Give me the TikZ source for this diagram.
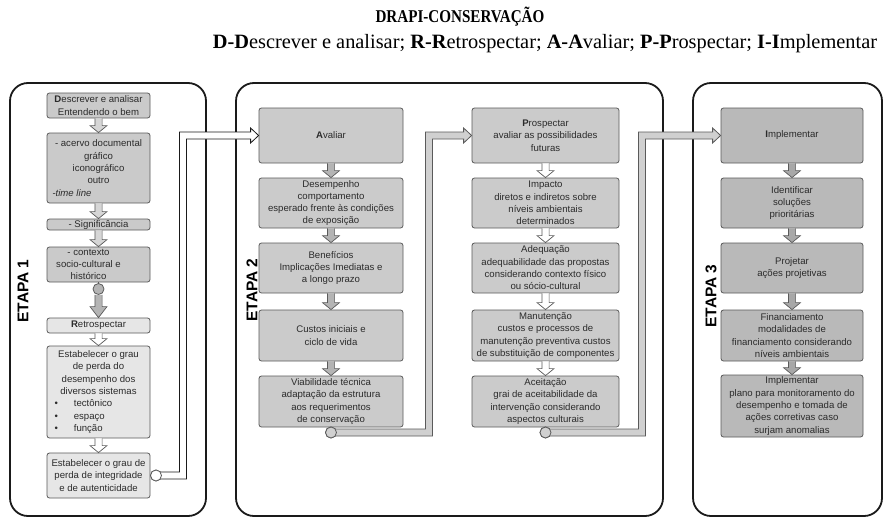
\documentclass[tikz,border=0pt]{standalone}
\usepackage{fontspec}
\setmainfont{Liberation Serif}
\setsansfont{Liberation Sans}
\usetikzlibrary{calc}

\definecolor{panelline}{HTML}{1A1A1A}
\definecolor{boxline}{HTML}{5A5A5A}
\definecolor{txt}{HTML}{2B2B2B}
\definecolor{fillD}{HTML}{CACACA}
\definecolor{fillR}{HTML}{E6E6E6}
\definecolor{fillA}{HTML}{CBCBCB}
\definecolor{fillP}{HTML}{CBCBCB}
\definecolor{fillI}{HTML}{B9B9B9}
\definecolor{arrD}{HTML}{D6D6D6}
\definecolor{arrA}{HTML}{B4B4B4}
\definecolor{arrI}{HTML}{A8A8A8}
\definecolor{pipeG}{HTML}{D0D0D0}

% hollow block arrow pointing down, from the bottom of one node to the top of the next
\newcommand\blockdown[4][7pt]{%
  \path[fill=#4] let \p1=(#2.south), \p2=(#3.north) in
    (\x1-3.6pt,\y1) -- (\x1-3.6pt,\y2+#1) -- (\x1-8.5pt,\y2+#1) -- (\x1,\y2)
    -- (\x1+8.5pt,\y2+#1) -- (\x1+3.6pt,\y2+#1) -- (\x1+3.6pt,\y1) -- cycle;
  \draw[draw=boxline, line width=0.7pt, line join=miter] let \p1=(#2.south), \p2=(#3.north) in
    (\x1-3.6pt,\y1) -- (\x1-3.6pt,\y2+#1) -- (\x1-8.5pt,\y2+#1) -- (\x1,\y2)
    -- (\x1+8.5pt,\y2+#1) -- (\x1+3.6pt,\y2+#1) -- (\x1+3.6pt,\y1);}

% wide pipe: right from a knob, up a riser at x = #3, right into the west side of a box
\newcommand\pipe[5]{%
  \path[draw=#5, line width=0.8pt, fill=#4, line join=miter]
    let \p1=(#1.center), \p2=(#2.west) in
    (\x1,\y1+3.5pt) -- (#3-3.5pt,\y1+3.5pt) -- (#3-3.5pt,\y2+3.5pt)
    -- (\x2-8pt,\y2+3.5pt) -- (\x2-8pt,\y2+7.5pt) -- (\x2,\y2)
    -- (\x2-8pt,\y2-7.5pt) -- (\x2-8pt,\y2-3.5pt) -- (#3+3.5pt,\y2-3.5pt)
    -- (#3+3.5pt,\y1-3.5pt) -- (\x1,\y1-3.5pt) -- cycle;}

% bulleted line inside the narrow boxes
\newcommand\bulletline[1]{\makebox[92pt][l]{\hspace*{2pt}\textbullet\hspace{16pt}#1}}
% a centred line set a little left of the box centre
\newcommand\leftish[1]{\makebox[100pt]{#1\hspace{20pt}}}

\tikzset{
  panel/.style={draw=panelline, line width=1.8pt, rounded corners=18pt},
  box/.style={draw=boxline, line width=0.8pt, rounded corners=2.5pt,
    inner xsep=0pt, inner ysep=1pt, align=center, text=txt,
    font=\sffamily\fontsize{9.6}{12.3}\selectfont},
  stagelabel/.style={rotate=90, text=black,
    font=\sffamily\bfseries\fontsize{15.5}{15.5}\selectfont},
  knob/.style={circle, draw=boxline, line width=0.8pt, fill=#1,
    minimum size=11pt, inner sep=0pt},
  colD/.style={box, fill=fillD, minimum width=103pt},
  colR/.style={box, fill=fillR, minimum width=103pt},
  colA/.style={box, fill=fillA, minimum width=144pt},
  colP/.style={box, fill=fillP, minimum width=147pt},
  colI/.style={box, fill=fillI, minimum width=142pt},
}

\begin{document}
\begin{tikzpicture}[x=1pt, y=-1pt]
\useasboundingbox[fill=white] (0,0) rectangle (885,519);

% headings
\node (title) at (460,17)
  {\scalebox{0.84}[1]{\fontsize{18}{18}\selectfont\bfseries DRAPI-CONSERVAÇÃO}};
\node (subtitle) at (545,44)
  {\resizebox{664pt}{!}{\textbf{D-D}escrever e analisar; \textbf{R-R}etrospectar;
   \textbf{A-A}valiar; \textbf{P-P}rospectar; \textbf{I-I}mplementar}};

% the three stage panels
\draw[panel] (10,83) rectangle (206,516);
\draw[panel] (236,83) rectangle (663,516);
\draw[panel] (693,83) rectangle (882,516);

\node[stagelabel] (e1) at (23,291) {ETAPA 1};
\node[stagelabel] (e2) at (252,290) {ETAPA 2};
\node[stagelabel] (e3) at (711,296) {ETAPA 3};

% stage 1: describe and look back
\node[colD, minimum height=25pt] (d1) at (98.5,105.5)
  {\textbf{D}escrever e analisar\\Entendendo o bem};
\node[colD, minimum height=70pt] (d2) at (98.5,168)
  {- acervo documental\\gráfico\\iconográfico\\outro\\\makebox[92pt][l]{-\textit{time line}}};
\node[colD, minimum height=11pt, inner ysep=0pt] (d3) at (98.5,224.5) {- Significância};
\node[colD, minimum height=35pt] (d4) at (98.5,264.5)
  {\leftish{- contexto}\\\leftish{socio-cultural e}\\\leftish{histórico}};
\node[knob=arrA] (k1) at (98.5,289) {};
\node[colR, minimum height=15pt, inner ysep=0pt] (r1) at (98.5,325.5) {\textbf{R}etrospectar};
\node[colR, minimum height=92pt] (r2) at (98.5,392)
  {Estabelecer o grau\\de perda do\\desempenho dos\\diversos sistemas\\
   \bulletline{tectônico}\\\bulletline{espaço}\\\bulletline{função}};
\node[colR, minimum height=45pt] (r3) at (98.5,475.5)
  {Estabelecer o grau de\\perda de integridade\\e de autenticidade};
\node[knob=white] (k3) at (156,475.5) {};

\blockdown{d1}{d2}{arrD}
\blockdown{d2}{d3}{arrD}
\blockdown{d3}{d4}{arrD}
\draw[boxline, line width=0.8pt] (d4.south) -- (k1.north);
\blockdown[11pt]{k1}{r1}{arrA}
\blockdown{r1}{r2}{white}
\blockdown{r2}{r3}{white}

% stage 2: evaluate
\node[colA, minimum height=55pt] (a1) at (331,135.5) {\textbf{A}valiar};
\node[colA, minimum height=50pt] (a2) at (331,203)
  {Desempenho\\comportamento\\esperado frente às condições\\de exposição};
\node[colA, minimum height=50pt] (a3) at (331,268)
  {Benefícios\\Implicações Imediatas e\\a longo prazo};
\node[colA, minimum height=51pt] (a4) at (331,335.5)
  {Custos iniciais e\\ciclo de vida};
\node[colA, minimum height=51pt] (a5) at (331,401.5)
  {Viabilidade técnica\\adaptação da estrutura\\aos requerimentos\\de conservação};
\node[knob=pipeG] (k4) at (331,432.5) {};

\blockdown{a1}{a2}{arrA}
\blockdown{a2}{a3}{arrA}
\blockdown{a3}{a4}{arrA}
\blockdown{a4}{a5}{arrA}

% stage 2: look ahead
\node[colP, minimum height=55pt] (p1) at (545.5,135.5)
  {\textbf{P}rospectar\\avaliar as possibilidades\\futuras};
\node[colP, minimum height=50pt] (p2) at (545.5,203)
  {Impacto\\diretos e indiretos sobre\\níveis ambientais\\determinados};
\node[colP, minimum height=50pt] (p3) at (545.5,268)
  {Adequação\\adequabilidade das propostas\\considerando contexto físico\\ou sócio-cultural};
\node[colP, minimum height=51pt] (p4) at (545.5,335.5)
  {Manutenção\\custos e processos de\\manutenção preventiva custos\\de substituição de componentes};
\node[colP, minimum height=51pt] (p5) at (545.5,401.5)
  {Aceitação\\grai de aceitabilidade da\\intervenção considerando\\aspectos culturais};
\node[knob=pipeG] (k5) at (545.5,432.5) {};

\blockdown{p1}{p2}{white}
\blockdown{p2}{p3}{white}
\blockdown{p3}{p4}{white}
\blockdown{p4}{p5}{white}

% stage 3: implement
\node[colI, minimum height=55pt] (i1) at (792,135.5) {\textbf{I}mplementar};
\node[colI, minimum height=50pt] (i2) at (792,203)
  {Identificar\\soluções\\prioritárias};
\node[colI, minimum height=50pt] (i3) at (792,268)
  {Projetar\\ações projetivas};
\node[colI, minimum height=51pt] (i4) at (792,335.5)
  {Financiamento\\modalidades de\\financiamento considerando\\níveis ambientais};
\node[colI, minimum height=62pt] (i5) at (792,406)
  {Implementar\\plano para monitoramento do\\desempenho e tomada de\\ações corretivas caso\\surjam anomalias};

\blockdown{i1}{i2}{arrI}
\blockdown{i2}{i3}{arrI}
\blockdown{i3}{i4}{arrI}
\blockdown{i4}{i5}{arrI}

% pipes carrying each stage into the next
\pipe{k3}{a1}{183pt}{white}{panelline}
\pipe{k4}{p1}{429pt}{pipeG}{boxline}
\pipe{k5}{i1}{642pt}{pipeG}{boxline}
\node[knob=white] at (k3) {};
\node[knob=pipeG] at (k4) {};
\node[knob=pipeG] at (k5) {};
\end{tikzpicture}
\end{document}
